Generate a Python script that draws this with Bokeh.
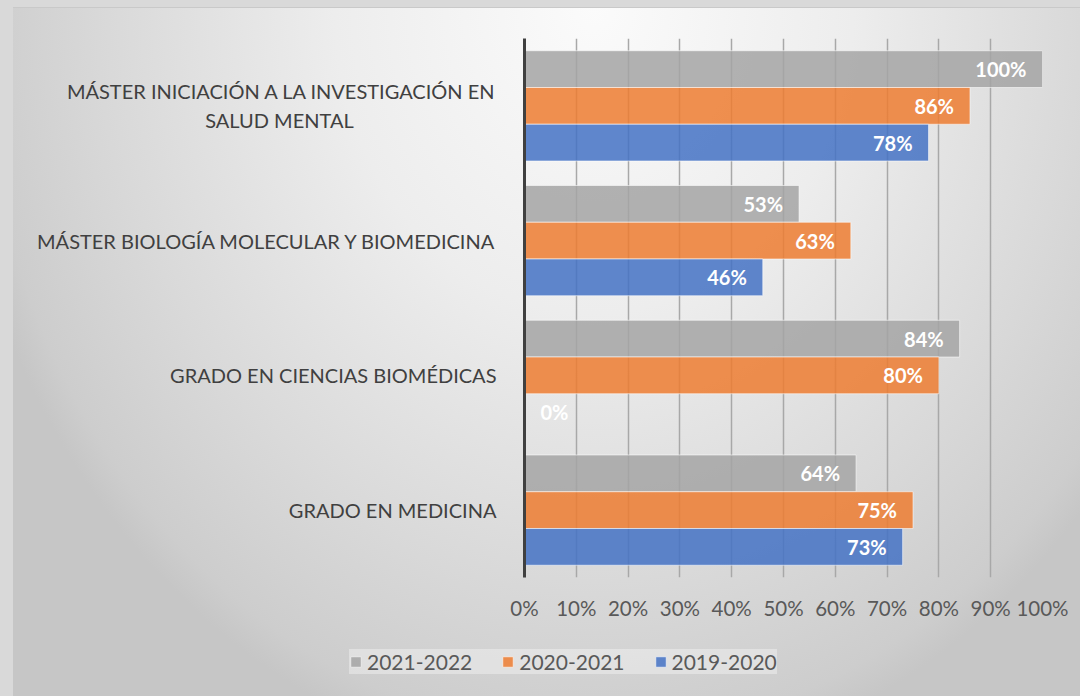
from bokeh.plotting import figure
from bokeh.models import (FactorRange, Range1d, FixedTicker, PrintfTickFormatter,
                          ColumnDataSource, Legend, LegendItem)
from bokeh.transform import dodge
from bokeh.core.properties import value
from bokeh.embed import file_html
from bokeh.resources import INLINE

# ---------------- data ----------------
NB = "\u00a0"
categories = [
    "GRADO EN MEDICINA",
    "GRADO EN CIENCIAS BIOMÉDICAS",
    "MÁSTER BIOLOGÍA MOLECULAR Y BIOMEDICINA",
    "MÁSTER INICIACIÓN A LA INVESTIGACIÓN EN\nSALUD MENTAL" + NB * 28,
]
series_names = ["2021-2022", "2020-2021", "2019-2020"]
values_2021_2022 = [64, 84, 53, 100]
values_2020_2021 = [75, 80, 63, 86]
values_2019_2020 = [73, 0, 46, 78]
x_tick_values = [0, 10, 20, 30, 40, 50, 60, 70, 80, 90, 100]

series_values = [values_2021_2022, values_2020_2021, values_2019_2020]
series_colors = ["#a5a5a5", "#ed7d31", "#4472c4"]
bar_h = 0.2727
offsets = [bar_h, 0.0, -bar_h]

FONT = "Lato"

p = figure(
    width=1080, height=628,
    y_range=FactorRange(factors=categories, range_padding=0),
    x_range=Range1d(0, 100),
    output_backend="svg", toolbar_location=None,
    min_border_left=524, min_border_right=38, min_border_top=38, min_border_bottom=51,
)
p.border_fill_color = None
p.background_fill_color = None
p.outline_line_color = None

# separate strip that carries the legend (its renderers are hidden)
pl = figure(
    width=1080, height=56,
    y_range=FactorRange(factors=categories), x_range=Range1d(0, 100),
    output_backend="svg", toolbar_location=None,
    x_axis_location=None, y_axis_location=None,
    min_border_left=0, min_border_right=0, min_border_top=0, min_border_bottom=0,
)
pl.border_fill_color = None
pl.background_fill_color = None
pl.outline_line_color = None
pl.xgrid.grid_line_color = None
pl.ygrid.grid_line_color = None

legend_items = []
for name, vals, col, off in zip(series_names, series_values, series_colors, offsets):
    src = ColumnDataSource(dict(
        cat=categories,
        val=vals,
        lbl=[f"{v}%" for v in vals],
        align=["left" if v == 0 else "right" for v in vals],
        xoff=[16 if v == 0 else -16 for v in vals],
    ))
    bar_style = dict(fill_color=col, fill_alpha=0.85,
                     line_color="#ffffff", line_alpha=0.55, line_width=1)
    p.hbar(y=dodge("cat", off, range=p.y_range), left=0, right="val", height=bar_h,
           source=src, **bar_style)
    p.text(x="val", y=dodge("cat", off, range=p.y_range), text="lbl", source=src,
           text_align="align", x_offset="xoff", text_baseline="middle",
           text_color="white", text_font=value(FONT), text_font_style="bold",
           text_font_size="20px")
    rl = pl.hbar(y="cat", left=0, right="val", height=bar_h, source=src,
                 visible=False, **bar_style)
    legend_items.append(LegendItem(label=name, renderers=[rl]))

# axes
p.xaxis.ticker = FixedTicker(ticks=x_tick_values)
p.xaxis.formatter = PrintfTickFormatter(format="%d%%")
p.xaxis.axis_line_color = None
p.xaxis.major_tick_line_color = None
p.xaxis.minor_tick_line_color = None
p.xaxis.major_label_standoff = 12
p.xaxis.major_label_text_font = FONT
p.xaxis.major_label_text_font_size = "20.5px"
p.xaxis.major_label_text_color = "#595959"

p.yaxis.axis_line_color = "#404040"
p.yaxis.axis_line_width = 3
p.yaxis.major_tick_line_color = None
p.yaxis.minor_tick_line_color = None
p.yaxis.major_label_standoff = 22
p.yaxis.major_label_text_font = FONT
p.yaxis.major_label_text_font_size = "20px"
p.yaxis.major_label_text_color = "#404040"

p.xgrid.grid_line_color = "#a8a8a8"
p.xgrid.grid_line_width = 1.5
p.ygrid.grid_line_color = None

legend = Legend(items=legend_items, orientation="horizontal", location=(349, 10),
                glyph_width=13, glyph_height=13, label_standoff=5, spacing=29,
                padding=13, margin=0,
                label_text_font=FONT, label_text_font_size="21px",
                label_text_color="#595959",
                background_fill_color="#ffffff", background_fill_alpha=0.35,
                border_line_color=None)
pl.add_layout(legend)

BG = ("linear-gradient(to right, #d9d9d9 0px, #d9d9d9 13px, transparent 13px), "
      "linear-gradient(to bottom, #d9d9d9 0px, #d9d9d9 7px, #c9c9c9 7px, #c9c9c9 8px, transparent 8px), "
      "radial-gradient(ellipse 60% 110% at 55% 1%, #fbfbfb 0%, #ededed 40%, "
      "#d9d9d9 75%, #cdcdcd 95%, #c6c6c6 100%)")

html = file_html([p, pl], INLINE)
css = ("<style>html{background:" + BG + ";background-size:1080px 696px;"
       "background-repeat:no-repeat;background-color:#c6c6c6;}"
       "body{background:transparent;}</style>")
html = html.replace("</head>", css + "</head>", 1)
open("out.html", "w").write(html)
